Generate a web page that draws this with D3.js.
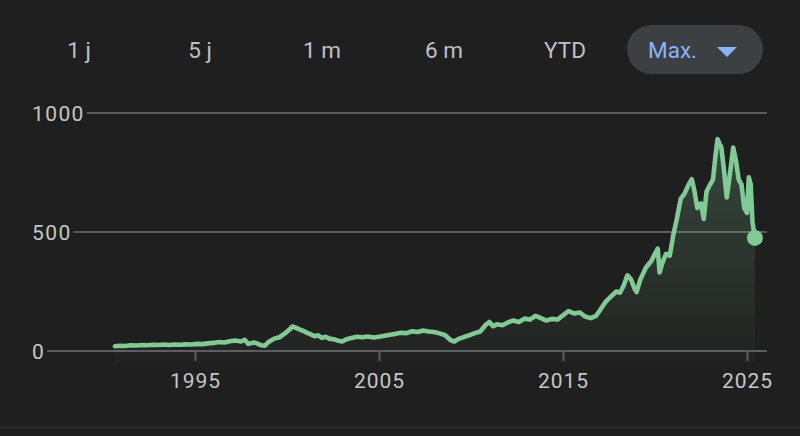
<!DOCTYPE html>
<html>
<head>
<meta charset="utf-8">
<script src="https://cdn.jsdelivr.net/npm/d3@7"></script>
<style>
  html, body { margin: 0; padding: 0; background: #1f1f1f; }
  svg { display: block; }
</style>
</head>
<body>
<svg id="chart" width="800" height="436"></svg>
<script>
// ---- data ----
const rangeButtons = ["1 j", "5 j", "1 m", "6 m", "YTD"];
const activeRange = "Max.";
const yTickValues = [0, 500, 1000];
const xTickValues = [1995, 2005, 2015, 2025];

const years = [
  1990.65, 1990.9, 1991.2, 1991.5, 1991.8, 1992.1, 1992.4, 1992.7, 1993.0, 1993.3,
  1993.6, 1993.9, 1994.2, 1994.5, 1994.8, 1995.1, 1995.4, 1995.7, 1996.0, 1996.3,
  1996.6, 1996.9, 1997.2, 1997.5, 1997.7, 1997.9, 1998.2, 1998.4, 1998.6, 1998.8,
  1999.0, 1999.3, 1999.6, 1999.9, 2000.1, 2000.3, 2000.5, 2000.7, 2000.9, 2001.1,
  2001.3, 2001.5, 2001.7, 2001.9, 2002.1, 2002.3, 2002.6, 2002.8, 2003.0, 2003.2,
  2003.5, 2003.8, 2004.1, 2004.4, 2004.7, 2005.0, 2005.3, 2005.6, 2005.9, 2006.2,
  2006.5, 2006.8, 2007.1, 2007.4, 2007.7, 2008.0, 2008.3, 2008.6, 2008.9, 2009.1,
  2009.3, 2009.6, 2009.9, 2010.2, 2010.5, 2010.8, 2011.0, 2011.2, 2011.4, 2011.7,
  2012.0, 2012.3, 2012.6, 2012.9, 2013.2, 2013.5, 2013.8, 2014.1, 2014.4, 2014.7,
  2015.0, 2015.3, 2015.6, 2015.9, 2016.2, 2016.5, 2016.8, 2017.0, 2017.3, 2017.6,
  2017.9, 2018.1, 2018.3, 2018.5, 2018.7, 2018.9, 2019.0, 2019.2, 2019.5, 2019.8,
  2020.0, 2020.15, 2020.25, 2020.4, 2020.6, 2020.8, 2021.0, 2021.2, 2021.4, 2021.6,
  2021.8, 2022.0, 2022.15, 2022.3, 2022.5, 2022.65, 2022.8, 2023.0, 2023.15, 2023.3,
  2023.4, 2023.5, 2023.6, 2023.75, 2023.9, 2024.1, 2024.25, 2024.4, 2024.55, 2024.7,
  2024.85, 2025.0, 2025.1, 2025.2, 2025.3, 2025.43
];
const prices = [
  20, 22, 21, 24, 23, 25, 24, 26, 25, 27,
  25, 27, 26, 28, 27, 30, 29, 32, 34, 38,
  36, 41, 44, 40, 47, 30, 36, 31, 24, 22,
  38, 52, 58, 75, 88, 103, 97, 90, 84, 76,
  70, 62, 66, 55, 60, 52, 48, 43, 40, 48,
  55, 60, 58, 61, 57, 60, 64, 68, 72, 77,
  75, 83, 80, 86, 82, 80, 74, 66, 45, 40,
  50, 58, 66, 75, 82, 110, 122, 104, 112, 108,
  120, 128, 122, 136, 132, 148, 138, 128, 135, 132,
  150, 168, 158, 162, 145, 138, 148, 170, 205, 228,
  250, 245, 275, 318, 300, 260, 248, 300, 350, 378,
  410, 430, 330, 370, 408, 400, 490, 560, 640, 660,
  695, 722, 670, 600, 620, 555, 670, 700, 720, 830,
  890, 870, 858, 760, 645, 760, 855, 800, 720, 700,
  600, 580, 730, 700, 540, 475
];

// ---- chart ----
const svg = d3.select("#chart");
const W = 800, H = 436;
const lineColor = "#81c995";
const gridColor = "#5a5c5e";
const labelColor = "#c4c7c5";

const x = d3.scaleLinear().domain([1995, 2025]).range([195, 747]);
const y = d3.scaleLinear().domain([0, 1000]).range([351, 113]);

svg.append("rect").attr("width", W).attr("height", H).attr("fill", "#1f1f1f");

// range buttons
const btnX = [79, 200, 322, 444, 565];
svg.append("g").selectAll("text").data(rangeButtons).join("text")
  .attr("x", (d, i) => btnX[i]).attr("y", 58)
  .attr("text-anchor", "middle")
  .attr("font-family", "Roboto, 'Noto Sans', sans-serif")
  .attr("font-size", 22.5)
  .attr("fill", "#bdc1c6")
  .text(d => d);

svg.append("rect").attr("x", 627).attr("y", 25).attr("width", 136).attr("height", 49)
  .attr("rx", 24.5).attr("fill", "#3c4043");
svg.append("text").attr("x", 648).attr("y", 58)
  .attr("font-family", "Roboto, 'Noto Sans', sans-serif")
  .attr("font-size", 22.5).attr("fill", "#8ab4f8").text(activeRange);
svg.append("path").attr("d", "M717,47 L737,47 L727,57 Z").attr("fill", "#8ab4f8");

// gradient
const defs = svg.append("defs");
const grad = defs.append("linearGradient").attr("id", "areaGrad")
  .attr("gradientUnits", "userSpaceOnUse")
  .attr("x1", 0).attr("y1", y(900)).attr("x2", 0).attr("y2", 362);
grad.append("stop").attr("offset", 0).attr("stop-color", lineColor).attr("stop-opacity", 0.24);
grad.append("stop").attr("offset", 1).attr("stop-color", lineColor).attr("stop-opacity", 0.02);

const data = years.map((yr, i) => ({ yr, v: prices[i] }));

// gridlines + y labels
const yLabelG = svg.append("g");
yTickValues.forEach(t => {
  const txt = yLabelG.append("text")
    .attr("x", 32).attr("y", y(t) + 8)
    .attr("font-family", "Roboto, 'Noto Sans', sans-serif")
    .attr("font-size", 21).attr("letter-spacing", 1.4)
    .attr("fill", labelColor).text(String(t));
  const w = txt.node().getComputedTextLength();
  svg.append("line")
    .attr("x1", 32 + w + 2).attr("x2", 767)
    .attr("y1", y(t)).attr("y2", y(t))
    .attr("stroke", gridColor).attr("stroke-width", 2);
});

// area
const area = d3.area().x(d => x(d.yr)).y0(362).y1(d => y(d.v)).curve(d3.curveLinear);
svg.append("path").datum(data).attr("d", area).attr("fill", "url(#areaGrad)");

// x axis
const xAxis = d3.axisBottom(x).tickValues(xTickValues).tickFormat(d3.format("d"))
  .tickSize(10).tickPadding(12);
const gx = svg.append("g").attr("transform", "translate(0,351)").call(xAxis);
gx.select(".domain").remove();
gx.selectAll(".tick line").attr("stroke", gridColor).attr("stroke-width", 2);
gx.selectAll(".tick text")
  .attr("font-family", "Roboto, 'Noto Sans', sans-serif")
  .attr("font-size", 21).attr("letter-spacing", 1)
  .attr("fill", labelColor);

// line
const line = d3.line().x(d => x(d.yr)).y(d => y(d.v)).curve(d3.curveLinear);
svg.append("path").datum(data).attr("d", line)
  .attr("fill", "none").attr("stroke", lineColor)
  .attr("stroke-width", 4.6).attr("stroke-linejoin", "round").attr("stroke-linecap", "round");

// end dot
const last = data[data.length - 1];
svg.append("circle").attr("cx", x(last.yr)).attr("cy", y(last.v)).attr("r", 8).attr("fill", lineColor);

// bottom separator
svg.append("line").attr("x1", 0).attr("x2", W).attr("y1", 427.5).attr("y2", 427.5)
  .attr("stroke", "#2e2e2e").attr("stroke-width", 2);
</script>
</body>
</html>
